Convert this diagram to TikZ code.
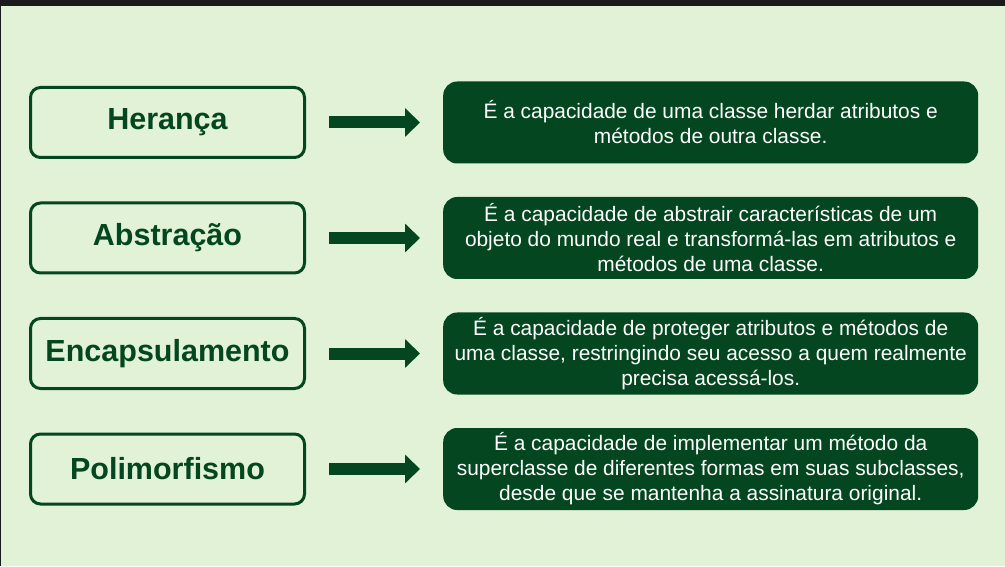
\documentclass[tikz,border=0pt]{standalone}
\usepackage{fontspec}
\setmainfont{Liberation Sans}
\usetikzlibrary{positioning,arrows.meta}
\definecolor{bggreen}{HTML}{E2F2D6}
\definecolor{darkgreen}{HTML}{03461F}
\definecolor{topbar}{HTML}{1A1A1C}

\begin{document}
\begin{tikzpicture}[x=1pt,y=1pt,
    concept/.style={draw=darkgreen,line width=3pt,rounded corners=10pt,minimum width=274pt,minimum height=70pt,text=darkgreen,font=\fontsize{30.5}{35}\selectfont\bfseries},
    meaning/.style={fill=darkgreen,rounded corners=14pt,minimum width=535pt,minimum height=82pt,text=white,align=center,inner sep=0pt,font=\fontsize{20.9}{25}\selectfont},
    bigarrow/.style={draw=darkgreen,line width=12pt,-{Triangle[length=15pt,width=28pt]},shorten <=23pt,shorten >=23pt}]

    % background
    \fill[bggreen] (0,0) rectangle (1005,566);
    \fill[topbar] (0,560) rectangle (1005,566);
    \fill[topbar] (0,0) rectangle (1,560);
    \useasboundingbox (0,0) rectangle (1005,566);

    \node[concept] (her) at (167.5,443.5) {Herança};
    \node[concept,below=42.5pt of her] (abs) {Abstração};
    \node[concept,below=42.5pt of abs] (enc) {Encapsulamento};
    \node[concept,below=42.5pt of enc] (pol) {Polimorfismo};

    \node[meaning,right=137pt of her] (herdesc) {É a capacidade de uma classe herdar atributos e\\métodos de outra classe.};
    \node[meaning,right=137pt of abs] (absdesc) {É a capacidade de abstrair características de um\\objeto do mundo real e transformá-las em atributos e\\métodos de uma classe.};
    \node[meaning,right=137pt of enc] (encdesc) {É a capacidade de proteger atributos e métodos de\\uma classe, restringindo seu acesso a quem realmente\\precisa acessá-los.};
    \node[meaning,right=137pt of pol] (poldesc) {É a capacidade de implementar um método da\\superclasse de diferentes formas em suas subclasses,\\desde que se mantenha a assinatura original.};

    % arrows
    \draw[bigarrow] (her) -- (herdesc);
    \draw[bigarrow] (abs) -- (absdesc);
    \draw[bigarrow] (enc) -- (encdesc);
    \draw[bigarrow] (pol) -- (poldesc);

\end{tikzpicture}
\end{document}
